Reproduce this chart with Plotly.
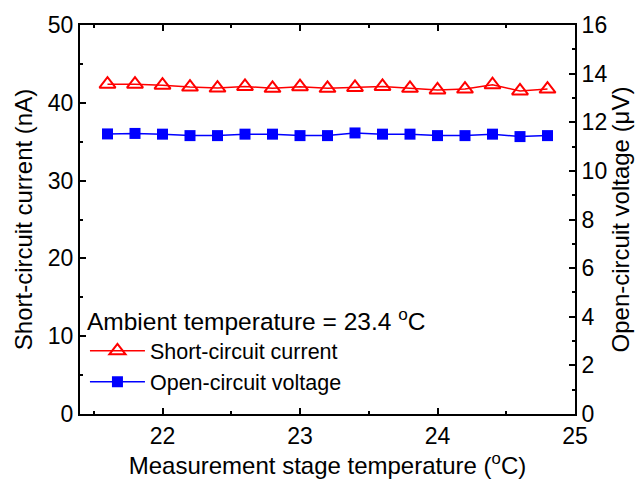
import plotly.graph_objects as go

temperature = [21.6, 21.8, 22.0, 22.2, 22.4, 22.6, 22.8, 23.0, 23.2,
               23.4, 23.6, 23.8, 24.0, 24.2, 24.4, 24.6, 24.8]
current_nA = [42.40, 42.40, 42.27, 42.02, 41.90, 42.11, 41.86, 42.07, 41.86,
              41.98, 42.11, 41.86, 41.65, 41.77, 42.32, 41.52, 41.77]
voltage_uV = [11.52, 11.54, 11.51, 11.45, 11.45, 11.51, 11.51, 11.45, 11.45,
              11.56, 11.51, 11.51, 11.45, 11.45, 11.51, 11.41, 11.45]

FONT = "Liberation Sans, Arial, sans-serif"

fig = go.Figure()
fig.add_trace(go.Scatter(
    x=temperature, y=current_nA, name="Short-circuit current",
    mode="lines+markers",
    line=dict(color="#ff0000", width=1.5),
    marker=dict(symbol="triangle-up-open", size=14, color="#ff0000",
                line=dict(width=2, color="#ff0000")),
    yaxis="y"))
fig.add_trace(go.Scatter(
    x=temperature, y=voltage_uV, name="Open-circuit voltage",
    mode="lines+markers",
    line=dict(color="#0000ff", width=1.5),
    marker=dict(symbol="square", size=11, color="#0000ff"),
    yaxis="y2"))

axis_common = dict(showline=True, linecolor="black", linewidth=2,
                   ticks="inside", ticklen=6, tickwidth=1.5, tickcolor="black",
                   showgrid=False, zeroline=False,
                   tickfont=dict(family=FONT, size=23, color="black"))

fig.update_layout(
    width=642, height=485,
    margin=dict(l=80, r=65, t=15, b=71),
    paper_bgcolor="white", plot_bgcolor="white",
    font=dict(family=FONT, color="black"),
    xaxis=dict(range=[21.4, 25], dtick=1, mirror="ticks",
               minor=dict(dtick=0.5, ticks="inside", ticklen=3, tickcolor="black"),
               title=dict(text="Measurement stage temperature (<sup>o</sup>C)",
                          font=dict(family=FONT, size=24), standoff=2),
               **axis_common),
    yaxis=dict(range=[0, 50], dtick=10,
               minor=dict(dtick=5, ticks="inside", ticklen=3, tickcolor="black"),
               title=dict(text="Short-circuit current (nA)",
                          font=dict(family=FONT, size=24), standoff=8),
               **axis_common),
    yaxis2=dict(range=[0, 16], dtick=2, overlaying="y", side="right",
                minor=dict(dtick=1, ticks="inside", ticklen=3, tickcolor="black"),
                title=dict(text="Open-circuit voltage (μV)",
                           font=dict(family=FONT, size=24), standoff=6),
                **axis_common),
    legend=dict(x=0.01, y=0.297, xanchor="left", yanchor="top",
                bgcolor="rgba(0,0,0,0)",
                font=dict(family=FONT, size=21.5),
                title=dict(text="Ambient temperature = 23.4 <sup>o</sup>C",
                           font=dict(family=FONT, size=24.5)),
                tracegroupgap=0, itemwidth=55),
    showlegend=True,
)

fig.write_html("out.html")
